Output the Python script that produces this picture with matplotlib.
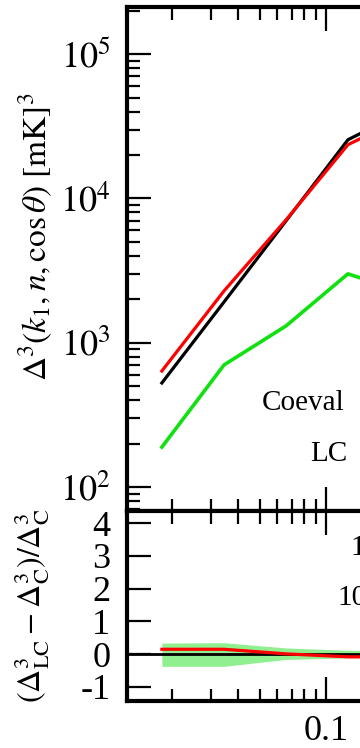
import numpy as np
import matplotlib
matplotlib.use("Agg")
import matplotlib.pyplot as plt
from matplotlib.ticker import LogLocator, NullFormatter, FixedLocator, FixedFormatter

plt.rcParams["font.family"] = ["Liberation Serif", "DejaVu Serif"]
plt.rcParams["mathtext.fontset"] = "stix"
plt.rcParams["axes.unicode_minus"] = False

# values (last point lies beyond the cropped edge)
k = [0.018, 0.0345, 0.066, 0.126, 0.24]
coeval = [526, 1918, 6995, 25500, 41700]
lc = [637, 2287, 7110, 23550, 38000]
sigma = [189, 702, 1308, 3000, 2180]

ratio = [0.15, 0.15, 0.01, -0.08, -0.09]
band_hi = [0.34, 0.35, 0.19, 0.12, 0.10]
band_lo = [-0.37, -0.37, -0.16, -0.11, -0.10]

top_ticks = [1e2, 1e3, 1e4, 1e5]
top_labels = [r"$10^{2}$", r"$10^{3}$", r"$10^{4}$", r"$10^{5}$"]
low_ticks = [-1, 0, 1, 2, 3, 4]
low_labels = ["-1", "0", "1", "2", "3", "4"]

W, H = 360, 748
fig = plt.figure(figsize=(W / 100, H / 100), dpi=100)

x0, x1 = 0.0125, 1.0
axw = 419 / W
ax = fig.add_axes([127 / W, 1 - 511 / H, axw, 504 / H])
axr = fig.add_axes([127 / W, 1 - 701 / H, axw, 190 / H])

ax.plot(k, coeval, color="black", lw=2.3, zorder=3)
ax.plot(k, lc, color="red", lw=2.3, zorder=4)
ax.plot(k, sigma, color="#11e011", lw=2.6, zorder=3)
ax.set_xscale("log")
ax.set_yscale("log")
ax.set_xlim(x0, x1)
ax.set_ylim(68.2, 2.12e5)
ax.yaxis.set_major_locator(FixedLocator(top_ticks))
ax.yaxis.set_major_formatter(FixedFormatter(top_labels))
ax.yaxis.set_minor_locator(LogLocator(base=10, subs=np.arange(2, 10), numticks=20))
ax.yaxis.set_minor_formatter(NullFormatter())
ax.xaxis.set_minor_locator(LogLocator(base=10, subs=np.arange(2, 10), numticks=20))
ax.tick_params(axis="x", which="both", labelbottom=False)

axr.fill_between(k, band_lo, band_hi, color="#90f090", lw=0, zorder=1)
axr.axhline(0, color="black", lw=2.0, zorder=2)
axr.plot(k, ratio, color="red", lw=2.3, zorder=3)
axr.set_xscale("log")
axr.set_xlim(x0, x1)
axr.set_ylim(-1.427, 4.366)
axr.yaxis.set_major_locator(FixedLocator(low_ticks))
axr.yaxis.set_major_formatter(FixedFormatter(low_labels))
axr.xaxis.set_major_locator(FixedLocator([0.1]))
axr.xaxis.set_major_formatter(FixedFormatter(["0.1"]))
axr.xaxis.set_minor_locator(LogLocator(base=10, subs=np.arange(2, 10), numticks=20))
axr.xaxis.set_minor_formatter(NullFormatter())

for a in (ax, axr):
    for s in a.spines.values():
        s.set_linewidth(3)
    a.tick_params(which="major", direction="in", length=17, width=1.6,
                  top=True, right=True, labelsize=26, pad=12)
    a.tick_params(which="minor", direction="in", length=9, width=1.6,
                  top=True, right=True)
axr.tick_params(axis="x", which="major", pad=10)

fig.text(36 / W, 1 - 237 / H, r"$\Delta^3(k_1, n, \cos\theta)\ \mathrm{[mK]}^3$",
         rotation=90, ha="center", va="center", fontsize=24)
fig.text(32 / W, 1 - 606 / H,
         r"$(\Delta^3_\mathrm{LC} - \Delta^3_\mathrm{C})/\Delta^3_\mathrm{C}$",
         rotation=90, ha="center", va="center", fontsize=23)

fig.text(262 / W, 1 - 410 / H, "Coeval", fontsize=21, va="baseline")
fig.text(310 / W, 1 - 461 / H, "LC", fontsize=21, va="baseline")
fig.text(350 / W, 1 - 555 / H, "1", fontsize=21, va="baseline")
fig.text(337 / W, 1 - 605 / H, "10", fontsize=21, va="baseline")

fig.savefig("out.png", dpi=100)
